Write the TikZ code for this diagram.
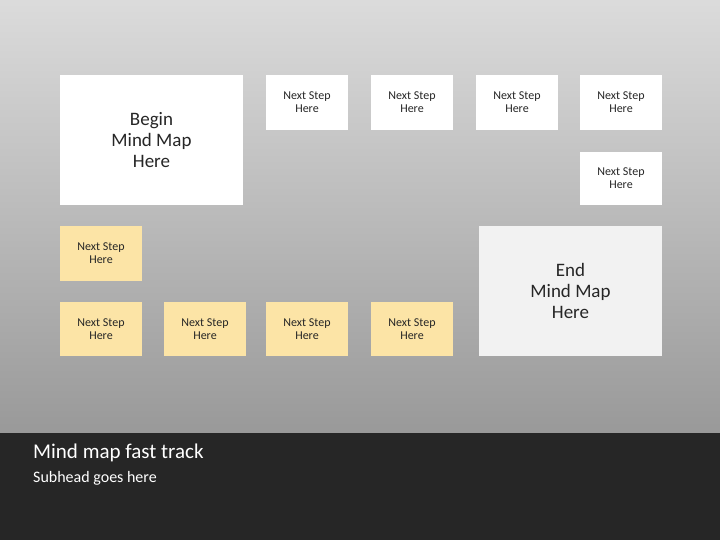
\documentclass[tikz,border=0pt]{standalone}
\usepackage{fontspec}
\setmainfont{Carlito}
\begin{document}
\begin{tikzpicture}[x=1pt,y=-1pt,
  sm/.style={draw=none,align=center,font=\fontsize{12}{13}\selectfont,text=black!85},
  wbox/.style={sm,fill=white},
  ybox/.style={sm,fill=yellow!45!orange!35!white},
  big/.style={draw=none,align=center,font=\fontsize{19}{21}\selectfont,text=black!85}]
\useasboundingbox (0,0) rectangle (720,540);
\shade[top color=black!14,bottom color=black!40] (0,0) rectangle (720,433);
\fill[black!85] (0,433) rectangle (720,540);
\node[big,fill=white,minimum width=183pt,minimum height=130pt] (begin) at (151.5,140) {Begin\\Mind Map\\Here};
\foreach \n/\x in {t1/307,t2/412,t3/517,t4/621}
  \node[wbox,minimum width=82pt,minimum height=55pt] (\n) at (\x,102.5) {Next Step\\Here};
\node[wbox,minimum width=82pt,minimum height=53pt] (r2) at (621,178.5) {Next Step\\Here};
\node[big,fill=black!5,minimum width=183pt,minimum height=130pt] (end) at (570.5,291) {End\\Mind Map\\Here};
\node[ybox,fill={rgb,255:red,252;green,228;blue,166},minimum width=82pt,minimum height=55pt] (y1) at (101,253.5) {Next Step\\Here};
\foreach \n/\x in {y2/101,y3/205,y4/307,y5/412}
  \node[ybox,fill={rgb,255:red,252;green,228;blue,166},minimum width=82pt,minimum height=54pt] (\n) at (\x,329) {Next Step\\Here};
\node[anchor=west,text=white,font=\fontsize{21}{23}\selectfont,inner sep=0] (title) at (33,453) {Mind map fast track};
\node[anchor=west,text=white,font=\fontsize{16}{18}\selectfont,inner sep=0] (sub) at (33,478) {Subhead goes here};
\end{tikzpicture}
\end{document}
